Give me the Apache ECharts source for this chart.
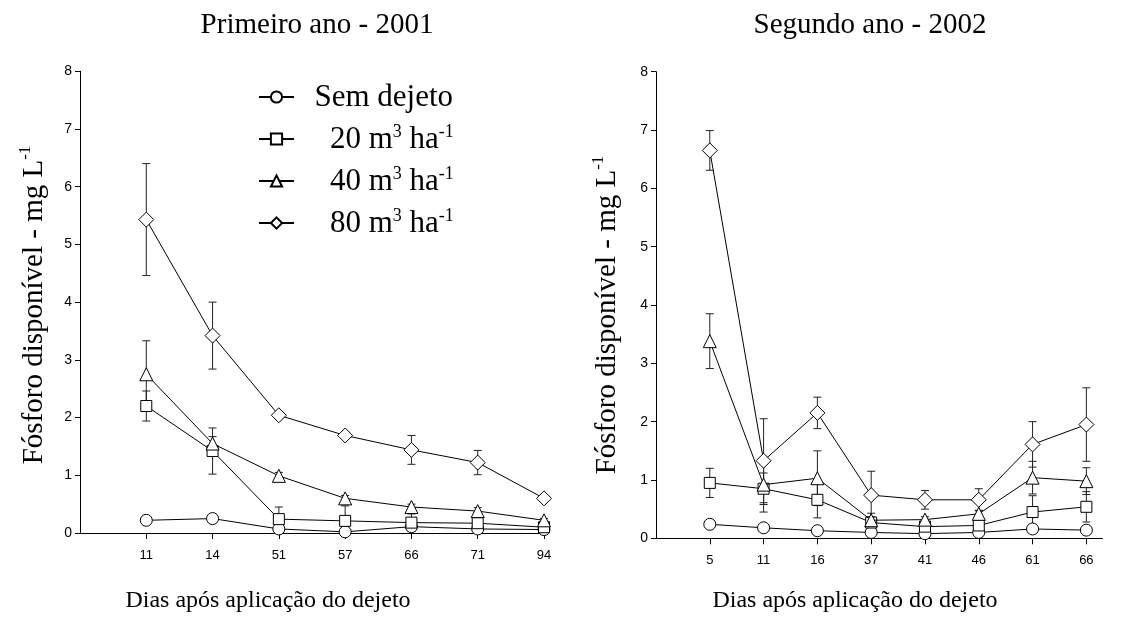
<!DOCTYPE html>
<html>
<head>
<meta charset="utf-8">
<script src="https://cdn.jsdelivr.net/npm/echarts@6/dist/echarts.min.js"></script>
<style>
html,body{margin:0;padding:0;background:#fff;}
#chart{width:1127px;height:635px;}
</style>
</head>
<body>
<div id="chart"></div>
<script>
// ---- data ----
const leftDays = ['11', '14', '51', '57', '66', '71', '94'];
const rightDays = ['5', '11', '16', '37', '41', '46', '61', '66'];
const seriesNames = ['Sem dejeto', '20 m3 ha-1', '40 m3 ha-1', '80 m3 ha-1'];
const yTicks = [0, 1, 2, 3, 4, 5, 6, 7, 8];

// Primeiro ano - 2001
const left0 = [0.22, 0.25, 0.07, 0.02, 0.11, 0.07, 0.06];
const left20 = [2.2, 1.42, 0.24, 0.21, 0.18, 0.17, 0.1];
const left40 = [2.75, 1.55, 0.99, 0.6, 0.45, 0.38, 0.22];
const left80 = [5.43, 3.42, 2.04, 1.69, 1.44, 1.22, 0.6];
const leftErr0 = [0.02, 0.02, 0.04, 0.03, 0.04, 0.03, 0.02];
const leftErr20 = [0.26, 0.4, 0.21, 0.26, 0.15, 0.12, 0.04];
const leftErr40 = [0.58, 0.12, 0.06, 0.05, 0.05, 0.06, 0.03];
const leftErr80 = [0.97, 0.58, 0.05, 0.05, 0.25, 0.21, 0.03];

// Segundo ano - 2002
const right0 = [0.24, 0.18, 0.13, 0.1, 0.08, 0.1, 0.16, 0.14];
const right20 = [0.95, 0.85, 0.66, 0.27, 0.2, 0.22, 0.45, 0.54];
const right40 = [3.38, 0.92, 1.03, 0.31, 0.32, 0.42, 1.04, 0.98];
const right80 = [6.65, 1.33, 2.15, 0.74, 0.66, 0.66, 1.61, 1.95];
const rightErr0 = [0.02, 0.02, 0.02, 0.03, 0.03, 0.03, 0.05, 0.06];
const rightErr20 = [0.25, 0.27, 0.31, 0.1, 0.05, 0.08, 0.28, 0.26];
const rightErr40 = [0.47, 0.47, 0.47, 0.12, 0.05, 0.06, 0.28, 0.23];
const rightErr80 = [0.34, 0.72, 0.27, 0.41, 0.16, 0.19, 0.39, 0.63];

// ---- styling helpers ----
const SERIF = 'Liberation Serif';
const SANS = 'Liberation Sans';
const symbols = ['circle', 'rect', 'triangle', 'diamond'];
const symbolSizes = [12, 11, 13, 15];

const legendLabels = {
  'Sem dejeto': '{b|  Sem dejeto}',
  '20 m3 ha-1': '{b|    20 m}{s|3}{b| ha}{s|-1}',
  '40 m3 ha-1': '{b|    40 m}{s|3}{b| ha}{s|-1}',
  '80 m3 ha-1': '{b|    80 m}{s|3}{b| ha}{s|-1}'
};
const legendRich = {
  b: { fontFamily: SERIF, fontSize: 31, color: '#000', lineHeight: 32, verticalAlign: 'bottom' },
  s: { fontFamily: SERIF, fontSize: 18, color: '#000', lineHeight: 32, verticalAlign: 'top' }
};
const nameRich = {
  b: { fontFamily: SERIF, fontSize: 29, color: '#000', lineHeight: 32, verticalAlign: 'bottom' },
  s: { fontFamily: SERIF, fontSize: 17, color: '#000', lineHeight: 32, verticalAlign: 'top' }
};

function errRender(params, api) {
  const x = api.value(0), y = api.value(1), e = api.value(2);
  if (e == null || isNaN(e)) return;
  const lo = Math.max(0, y - e);
  const top = api.coord([x, y + e]);
  const bot = api.coord([x, lo]);
  const w = 4;
  const st = { stroke: '#222', lineWidth: 1 };
  return {
    type: 'group',
    children: [
      { type: 'line', shape: { x1: top[0], y1: top[1], x2: bot[0], y2: bot[1] }, style: st },
      { type: 'line', shape: { x1: top[0] - w, y1: top[1], x2: top[0] + w, y2: top[1] }, style: st },
      { type: 'line', shape: { x1: bot[0] - w, y1: bot[1], x2: bot[0] + w, y2: bot[1] }, style: st }
    ]
  };
}

function makeSeries(idx, vals, errs, name, k) {
  const pts = vals.map((v, i) => [i + 1, v]);
  const errPts = vals.map((v, i) => [i + 1, v, errs[i]]);
  return [
    {
      type: 'line', name: name, xAxisIndex: idx, yAxisIndex: idx,
      data: pts, symbol: symbols[k], symbolSize: symbolSizes[k], z: 3 + k,
      showAllSymbol: true, clip: false,
      lineStyle: { color: '#000', width: 1 },
      itemStyle: { color: '#fff', borderColor: '#000', borderWidth: 1 },
      emphasis: { disabled: true }
    },
    {
      type: 'custom', name: name + ' (erro)', xAxisIndex: idx, yAxisIndex: idx,
      renderItem: errRender, data: errPts, z: 1, silent: true,
      encode: { x: 0, y: 1 }
    }
  ];
}

const series = [];
[left0, left20, left40, left80].forEach((v, k) =>
  series.push(...makeSeries(0, v, [leftErr0, leftErr20, leftErr40, leftErr80][k], seriesNames[k], k)));
[right0, right20, right40, right80].forEach((v, k) =>
  series.push(...makeSeries(1, v, [rightErr0, rightErr20, rightErr40, rightErr80][k], seriesNames[k], k)));

function xAxis(gridIndex, cats, max) {
  const idx = cats.map((c, i) => i + 1);
  return {
    type: 'value', gridIndex: gridIndex, min: 0, max: max,
    axisLine: { show: true, onZero: false, lineStyle: { color: '#000', width: 1 } },
    axisTick: { show: true, length: 6, customValues: idx, lineStyle: { color: '#000' } },
    axisLabel: {
      customValues: idx, margin: 16,
      formatter: v => cats[Math.round(v) - 1] || '',
      fontFamily: SANS, fontSize: 13, color: '#000'
    },
    splitLine: { show: false }
  };
}
function yAxis(gridIndex) {
  return {
    type: 'value', gridIndex: gridIndex, min: 0, max: 8, interval: 1,
    axisLine: { show: true, lineStyle: { color: '#000', width: 1 } },
    axisTick: { show: true, length: 5, lineStyle: { color: '#000' } },
    axisLabel: {
      formatter: v => yTicks.indexOf(v) >= 0 ? String(v) : '',
      fontFamily: SANS, fontSize: 14, color: '#000', margin: 8
    },
    splitLine: { show: false }
  };
}

const yName = '{b|Fósforo disponível - mg L}{s|-1}';

const option = {
  backgroundColor: '#fff',
  animation: false,
  grid: [
    { left: 80, top: 71.25, width: 464, height: 461.75 },
    { left: 656, top: 71.7, width: 446.5, height: 466.6 }
  ],
  xAxis: [xAxis(0, leftDays, 7), xAxis(1, rightDays, 8.3)],
  yAxis: [yAxis(0), yAxis(1)],
  legend: {
    orient: 'vertical', left: 253, top: 77,
    itemWidth: 35, itemHeight: 14, itemGap: 10,
    data: seriesNames,
    formatter: n => legendLabels[n],
    textStyle: { fontFamily: SERIF, fontSize: 31, color: '#000', rich: legendRich },
    selectedMode: false
  },
  graphic: [
    { type: 'text', x: 317, y: 25, style: { text: 'Primeiro ano - 2001', font: '29px "Liberation Serif"', fill: '#000', align: 'center', verticalAlign: 'middle' } },
    { type: 'text', x: 870, y: 25, style: { text: 'Segundo ano - 2002', font: '29px "Liberation Serif"', fill: '#000', align: 'center', verticalAlign: 'middle' } },
    { type: 'text', x: 268, y: 601, style: { text: 'Dias após aplicação do dejeto', font: '24px "Liberation Serif"', fill: '#000', align: 'center', verticalAlign: 'middle' } },
    { type: 'text', x: 855, y: 601, style: { text: 'Dias após aplicação do dejeto', font: '24px "Liberation Serif"', fill: '#000', align: 'center', verticalAlign: 'middle' } },
    { type: 'text', x: 33, y: 305, rotation: Math.PI / 2, style: { text: yName, rich: nameRich, align: 'center', verticalAlign: 'middle' } },
    { type: 'text', x: 606, y: 315, rotation: Math.PI / 2, style: { text: yName, rich: nameRich, align: 'center', verticalAlign: 'middle' } }
  ],
  series: series
};

const chart = echarts.init(document.getElementById('chart'), null, { renderer: 'canvas' });
chart.setOption(option);
</script>
</body>
</html>
